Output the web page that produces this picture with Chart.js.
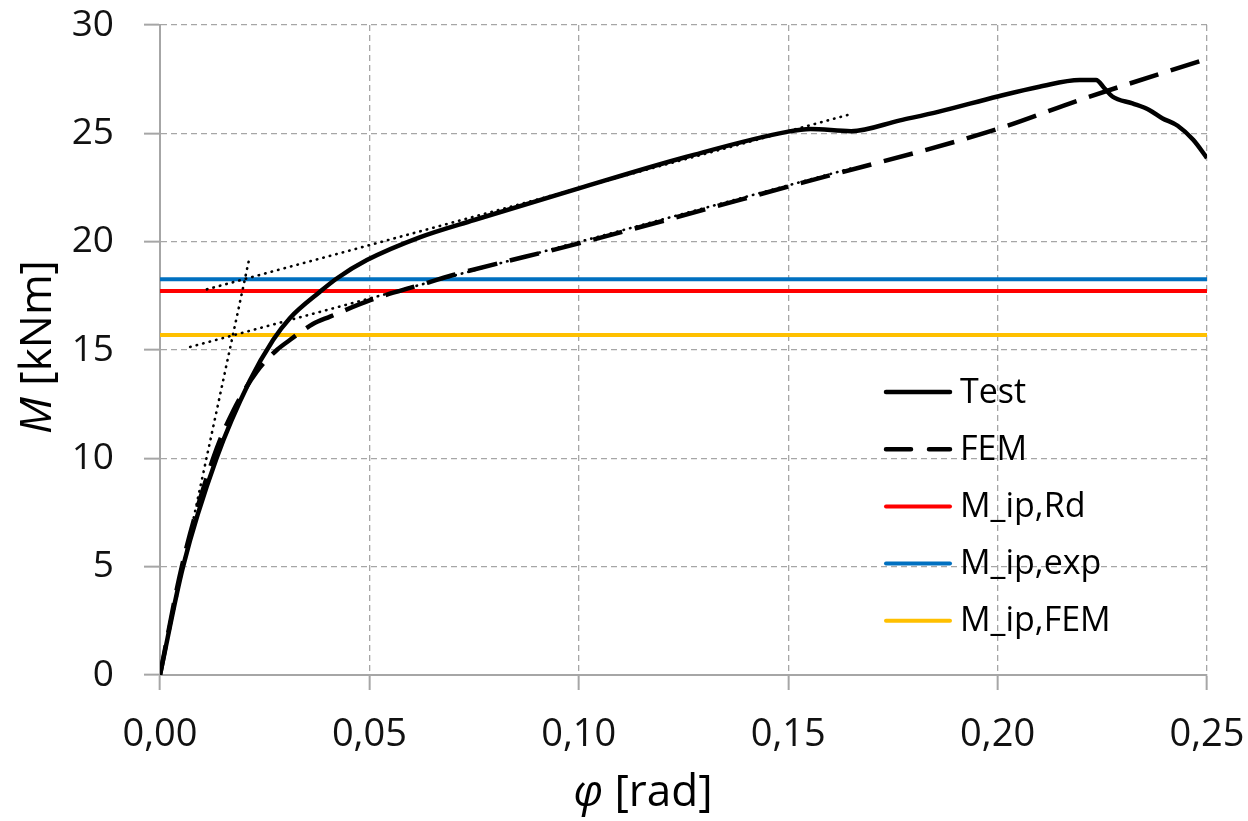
<!DOCTYPE html>
<html>
<head>
<meta charset="utf-8">
<script src="https://cdn.jsdelivr.net/npm/chart.js@4.4.1/dist/chart.umd.min.js"></script>
<style>
  html, body { margin: 0; padding: 0; background: #fff; }
  canvas { display: block; }
</style>
</head>
<body>
<canvas id="chart" width="1248" height="821"></canvas>
<script>
// measured curves (phi [rad], M [kNm])
const testPhi = [0, 0.0055, 0.0135, 0.0215, 0.0270, 0.0310, 0.0382, 0.0422, 0.0494, 0.0620, 0.0750, 0.1000, 0.1258, 0.1500, 0.1553, 0.1650, 0.1767, 0.1860, 0.2000, 0.2100, 0.2196, 0.2235, 0.2255, 0.2274, 0.2322, 0.2362, 0.2393, 0.2430, 0.2467, 0.2500];
const testM   = [0, 5.0, 10.0, 13.6, 15.46, 16.47, 17.69, 18.3, 19.15, 20.2, 21.0, 22.46, 23.92, 25.08, 25.2, 25.1, 25.6, 26.0, 26.7, 27.15, 27.46, 27.46, 27.08, 26.7, 26.38, 26.08, 25.7, 25.35, 24.7, 23.86];

const femPhi = [0, 0.0052, 0.0127, 0.0175, 0.0231, 0.0279, 0.0310, 0.0365, 0.0406, 0.0502, 0.0621, 0.0700, 0.1000, 0.1528, 0.2000, 0.2196, 0.2500];
const femM   = [0, 5.0, 10.0, 12.2, 14.0, 15.0, 15.46, 16.2, 16.54, 17.3, 18.0, 18.46, 19.92, 22.69, 25.2, 26.54, 28.44];

// tangent construction lines (start, end)
const tangent1Phi = [0, 0.0213];
const tangent1M   = [0, 19.2];
const tangent2Phi = [0.0112, 0.1643];
const tangent2M   = [17.8, 25.85];
const tangent3Phi = [0.0072, 0.165];
const tangent3M   = [15.14, 23.38];

// resistance levels
const mIpRd  = 17.72;
const mIpExp = 18.27;
const mIpFem = 15.69;

const xTicks = [0, 0.05, 0.10, 0.15, 0.20, 0.25];
const yTicks = [0, 5, 10, 15, 20, 25, 30];

const FONT = "'Open Sans', 'Noto Sans', sans-serif";
const GRID = '#a6a6a6';

function pts(xs, ys) {
  return xs.map((x, i) => ({ x: x, y: ys[i] }));
}
function level(v) {
  return [{ x: xTicks[0], y: v }, { x: xTicks[xTicks.length - 1], y: v }];
}
function fmt(v) {
  return v.toFixed(2).replace('.', ',');
}
function noPad(s) {
  s.paddingTop = 0; s.paddingBottom = 0; s.paddingLeft = 0; s.paddingRight = 0;
}

const datasets = [
  { label: 'Test', data: pts(testPhi, testM), borderColor: '#000', borderWidth: 4.5,
    cubicInterpolationMode: 'monotone' },
  { label: 'FEM', data: pts(femPhi, femM), borderColor: '#000', borderWidth: 4.5,
    borderDash: [30, 13], cubicInterpolationMode: 'monotone' },
  { label: 't1', data: pts(tangent1Phi, tangent1M), borderColor: '#000', borderWidth: 2.6,
    borderDash: [0.5, 6.2], borderCapStyle: 'round' },
  { label: 't2', data: pts(tangent2Phi, tangent2M), borderColor: '#000', borderWidth: 2.6,
    borderDash: [0.5, 6.2], borderCapStyle: 'round' },
  { label: 't3', data: pts(tangent3Phi, tangent3M), borderColor: '#000', borderWidth: 2.6,
    borderDash: [0.5, 6.2], borderCapStyle: 'round' },
  { label: 'M_ip,Rd', data: level(mIpRd), borderColor: '#ff0000', borderWidth: 4 },
  { label: 'M_ip,exp', data: level(mIpExp), borderColor: '#0070c0', borderWidth: 4 },
  { label: 'M_ip,FEM', data: level(mIpFem), borderColor: '#ffc000', borderWidth: 4 },
];
datasets.forEach(d => { d.pointRadius = 0; d.fill = false; });

// legend + axis titles drawn by hand to match placement
const extras = {
  id: 'extras',
  afterDraw(chart) {
    const ctx = chart.ctx;
    ctx.save();
    ctx.fillStyle = '#000';
    ctx.textBaseline = 'middle';

    // legend
    const order = ['Test', 'FEM', 'M_ip,Rd', 'M_ip,exp', 'M_ip,FEM'];
    ctx.font = '34px ' + FONT;
    order.forEach((name, i) => {
      const ds = chart.data.datasets.find(d => d.label === name);
      const y = 392 + i * 57.2;
      ctx.save();
      ctx.strokeStyle = ds.borderColor;
      ctx.lineWidth = ds.borderWidth;
      ctx.lineCap = 'round';
      ctx.setLineDash(ds.borderDash ? [25, 18] : []);
      ctx.beginPath();
      ctx.moveTo(886, y);
      ctx.lineTo(950, y);
      ctx.stroke();
      ctx.restore();
      ctx.textAlign = 'left';
      ctx.fillText(name, 960, y + 1);
    });

    // y title
    ctx.save();
    ctx.translate(38, 347);
    ctx.rotate(-Math.PI / 2);
    const it = 'italic 44px ' + FONT, nm = '44px ' + FONT;
    ctx.font = it; const w1 = ctx.measureText('M').width;
    ctx.font = nm; const w2 = ctx.measureText(' [kNm]').width;
    let x0 = -(w1 + w2) / 2;
    ctx.textAlign = 'left';
    ctx.font = it; ctx.fillText('M', x0, 0);
    ctx.font = nm; ctx.fillText(' [kNm]', x0 + w1, 0);
    ctx.restore();

    // x title
    ctx.font = it; const p1 = ctx.measureText('φ').width;
    ctx.font = nm; const p2 = ctx.measureText(' [rad]').width;
    x0 = 643 - (p1 + p2) / 2;
    ctx.textAlign = 'left';
    ctx.font = it; ctx.fillText('φ', x0, 793);
    ctx.font = nm; ctx.fillText(' [rad]', x0 + p1, 793);
    ctx.restore();
  }
};

new Chart(document.getElementById('chart'), {
  type: 'line',
  data: { datasets: datasets },
  options: {
    responsive: false,
    animation: false,
    layout: { padding: { top: 25, right: 41, left: 0, bottom: 0 } },
    plugins: { legend: { display: false }, tooltip: { enabled: false } },
    scales: {
      x: {
        type: 'linear',
        min: 0, max: 0.25,
        afterBuildTicks: s => { s.ticks = xTicks.map(v => ({ value: v })); },
        afterFit: s => { s.height = 146; noPad(s); },
        ticks: { callback: v => fmt(v), font: { family: FONT, size: 38 }, color: '#111',
                 padding: 22, maxRotation: 0, autoSkip: false },
        grid: { color: GRID, lineWidth: 1.3, tickLength: 15, tickColor: GRID, tickWidth: 2 },
        border: { color: GRID, width: 2, dash: [6, 4] }
      },
      y: {
        type: 'linear',
        min: 0, max: 30,
        afterBuildTicks: s => { s.ticks = yTicks.map(v => ({ value: v })); },
        afterFit: s => { s.width = 160; noPad(s); },
        ticks: { font: { family: FONT, size: 37 }, color: '#111', padding: 30 },
        grid: { color: GRID, lineWidth: 1.3, tickLength: 16, tickColor: GRID, tickWidth: 2 },
        border: { color: GRID, width: 2, dash: [6, 4] }
      }
    }
  },
  plugins: [extras]
});
</script>
</body>
</html>
